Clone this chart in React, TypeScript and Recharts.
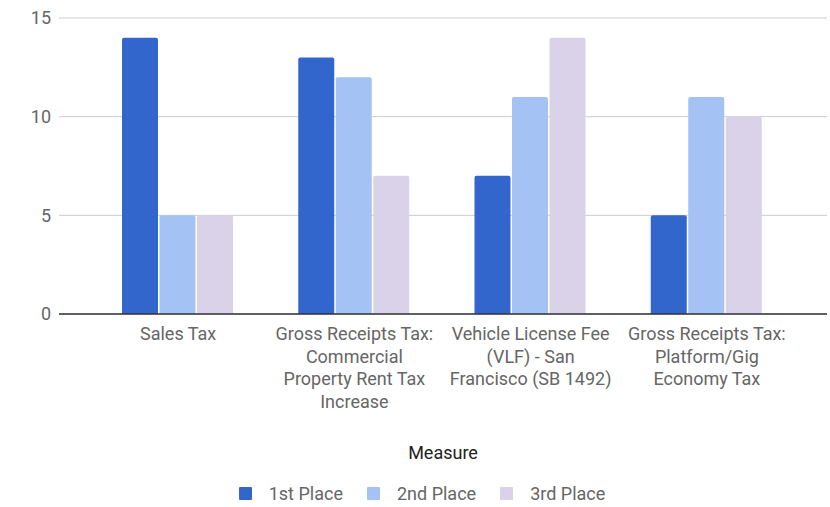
import React from "react";
import { BarChart, Bar, XAxis, YAxis, CartesianGrid, Legend, Label } from "recharts";

const categories = [
  "Sales Tax",
  "Gross Receipts Tax: Commercial Property Rent Tax Increase",
  "Vehicle License Fee (VLF) - San Francisco (SB 1492)",
  "Gross Receipts Tax: Platform/Gig Economy Tax",
];
const categoryLines = [
  ["Sales Tax"],
  ["Gross Receipts Tax:", "Commercial", "Property Rent Tax", "Increase"],
  ["Vehicle License Fee", "(VLF) - San", "Francisco (SB 1492)"],
  ["Gross Receipts Tax:", "Platform/Gig", "Economy Tax"],
];
const firstPlace = [14, 13, 7, 5];
const secondPlace = [5, 12, 11, 11];
const thirdPlace = [5, 7, 14, 10];
const yTicks = [0, 5, 10, 15];
const seriesNames = ["1st Place", "2nd Place", "3rd Place"];
const seriesColors = ["#3366cc", "#a4c2f4", "#d9d2e9"];
const xTitle = "Measure";

const data = categories.map((c, i) => ({
  name: c,
  idx: i,
  s1: firstPlace[i],
  s2: secondPlace[i],
  s3: thirdPlace[i],
}));

const FONT = "Roboto, 'Noto Sans', sans-serif";
const FS = 18;

const XTick = (props: any) => {
  const { x, y, payload } = props;
  const lines = categoryLines[payload.index] || [String(payload.value)];
  return (
    <text x={x} y={y} textAnchor="middle" fill="#666" fontSize={FS} fontFamily={FONT}>
      {lines.map((l: string, i: number) => (
        <tspan key={i} x={x} dy={i === 0 ? 18 : 22.7}>
          {l}
        </tspan>
      ))}
    </text>
  );
};

const LegendContent = () => (
  <div style={{ display: "flex", justifyContent: "center", paddingLeft: 14, fontFamily: FONT, fontSize: FS, color: "#666" }}>
    {seriesNames.map((n, i) => (
      <div key={n} style={{ display: "flex", alignItems: "center", marginRight: i < 2 ? 24 : 0 }}>
        <div style={{ width: 13, height: 13, background: seriesColors[i], borderRadius: 1, marginRight: 17 }} />
        <span>{n}</span>
      </div>
    ))}
  </div>
);

export default function App() {
  return (
    <div style={{ position: "absolute", left: 0, top: 0, width: 830, height: 507, background: "#fff" }}>
      <BarChart
        width={830}
        height={507}
        data={data}
        margin={{ top: 18, right: 3, left: 0, bottom: 27 }}
        barCategoryGap={32}
        barGap={1.5}
      >
        <CartesianGrid vertical={false} stroke="#cccccc" />
        <XAxis
          dataKey="name"
          height={145}
          interval={0}
          tickLine={false}
          axisLine={{ stroke: "#333333", strokeWidth: 1.5 }}
          padding={{ left: 31, right: 32 }}
          tick={<XTick />}
        >
          <Label value={xTitle} position="insideBottom" offset={0} fill="#222" fontSize={FS} fontFamily={FONT} />
        </XAxis>
        <YAxis
          width={59}
          domain={[0, 15]}
          ticks={yTicks}
          axisLine={false}
          tickLine={false}
          tick={{ fill: "#666", fontSize: FS, fontFamily: FONT }}
          tickMargin={2}
        />
        <Legend
          content={<LegendContent />}
          wrapperStyle={{ position: "absolute", left: 0, top: 483, width: 830 }}
        />
        <Bar dataKey="s1" name={seriesNames[0]} fill={seriesColors[0]} radius={[2, 2, 0, 0]} isAnimationActive={false} />
        <Bar dataKey="s2" name={seriesNames[1]} fill={seriesColors[1]} radius={[2, 2, 0, 0]} isAnimationActive={false} />
        <Bar dataKey="s3" name={seriesNames[2]} fill={seriesColors[2]} radius={[2, 2, 0, 0]} isAnimationActive={false} />
      </BarChart>
    </div>
  );
}
